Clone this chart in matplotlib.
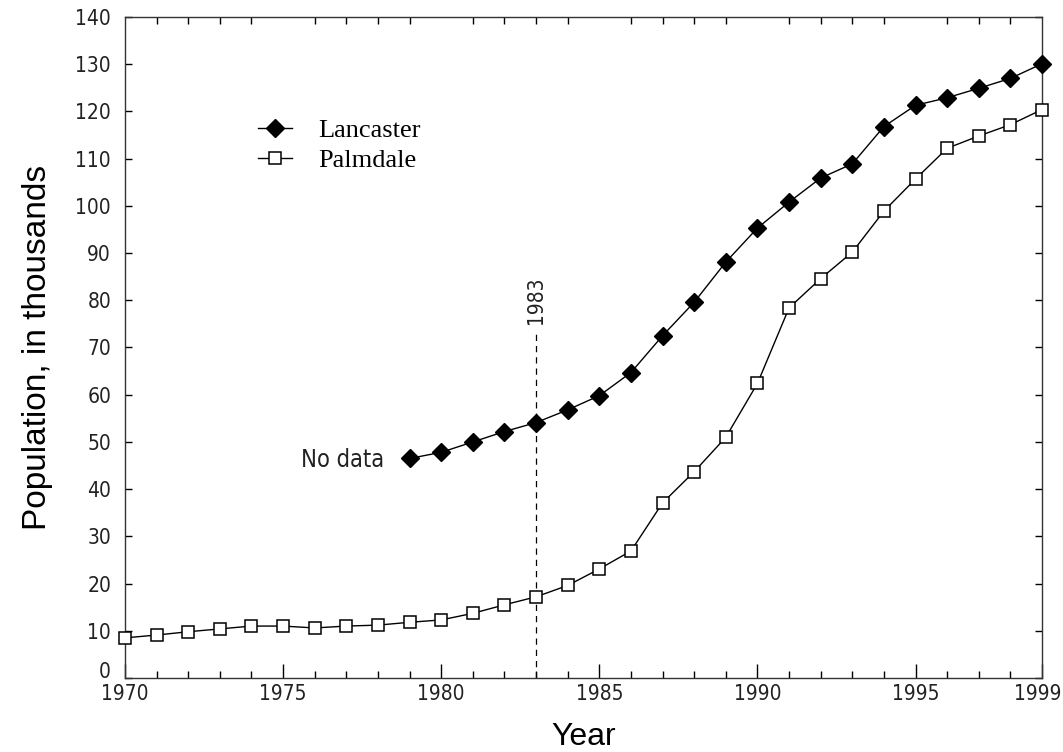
import matplotlib
matplotlib.use("Agg")
import matplotlib.pyplot as plt
from matplotlib.ticker import MultipleLocator
from matplotlib.transforms import ScaledTranslation

NARROW = ["DejaVu Sans"]
SANS = ["Liberation Sans", "DejaVu Sans"]
SERIF = ["Liberation Serif", "DejaVu Serif"]

# Population, in thousands
lancaster_years = list(range(1979, 2000))
lancaster_pop = [46.5, 47.8, 50.0, 52.2, 54.1, 56.8, 59.8, 64.7, 72.5, 79.6,
                 88.1, 95.3, 100.8, 105.9, 108.9, 116.8, 121.3, 122.9, 124.9,
                 127.0, 130.1]

palmdale_years = list(range(1970, 2000))
palmdale_pop = [8.5, 9.1, 9.8, 10.4, 11.0, 11.0, 10.6, 11.0, 11.2, 11.8,
                12.3, 13.7, 15.5, 17.2, 19.6, 23.1, 26.9, 37.1, 43.7, 51.0,
                62.4, 78.4, 84.6, 90.2, 98.9, 105.7, 112.2, 114.8, 117.2, 120.4]

marker_year = 1983
marker_top = 73.5
xtick_years = [1970, 1975, 1980, 1985, 1990, 1995, 1999]
ytick_values = list(range(0, 141, 10))


def narrow(size):
    return dict(family=NARROW, stretch="condensed", size=size, color="#222222")


fig = plt.figure(figsize=(10.63, 7.52), dpi=100)
ax = fig.add_axes([0.1176, 0.0984, 0.8627, 0.879])

ax.plot(lancaster_years, lancaster_pop, color="black", lw=1.0,
        marker="D", ms=9, mfc="black", mec="black", label="Lancaster",
        clip_on=False, zorder=3)
ax.plot(palmdale_years, palmdale_pop, color="black", lw=1.0,
        marker="s", ms=8, mfc="white", mec="black", mew=1.1, label="Palmdale",
        clip_on=False, zorder=3)

# 1983 reference line
ax.plot([marker_year, marker_year], [0, marker_top], color="black",
        lw=0.9, ls=(0, (5, 4)))
ax.text(marker_year, marker_top + 1.5, str(marker_year), rotation=90,
        ha="center", va="bottom", **narrow(15))
ax.text(1978.2, lancaster_pop[0] - 0.4, "No data", ha="right", va="center",
        **narrow(17))

ax.set_xlim(1970, 1999)
ax.set_ylim(0, 140)
ax.set_xticks(xtick_years)
ax.set_yticks(ytick_values)
ax.xaxis.set_minor_locator(MultipleLocator(1))
ax.tick_params(which="major", axis="x", direction="in", length=10, width=1,
               top=False, pad=4)
ax.tick_params(which="minor", axis="x", direction="in", length=5, width=1,
               top=True)
ax.tick_params(axis="y", direction="in", length=5, width=1, right=True,
               pad=10)
for lab in ax.get_xticklabels() + ax.get_yticklabels():
    lab.set(**narrow(15))

# nudge the corner labels apart and keep 1999 inside the figure
y0 = ax.yaxis.get_major_ticks()[0].label1
y0.set_transform(y0.get_transform() + ScaledTranslation(0, 6 / 72, fig.dpi_scale_trans))
x_end = ax.xaxis.get_major_ticks()[-1].label1
x_end.set_transform(x_end.get_transform() + ScaledTranslation(-3 / 72, 0, fig.dpi_scale_trans))

ax.set_xlabel("Year", fontsize=23, family=SANS, labelpad=13)
ax.set_ylabel("Population, in thousands", fontsize=24, family=SANS,
              labelpad=16)
for s in ax.spines.values():
    s.set_linewidth(1.0)
    s.set_color("#333333")

ax.legend(loc="upper left", bbox_to_anchor=(0.119, 0.882), frameon=False,
          prop={"family": SERIF, "size": 19}, handlelength=1.3,
          handletextpad=1.0, labelspacing=0.25)

fig.savefig("out.png", dpi=100)
